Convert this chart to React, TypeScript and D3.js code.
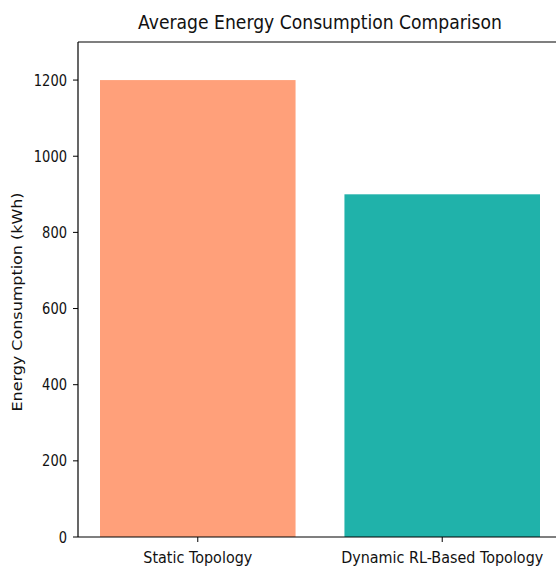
import React from "react";
import * as d3 from "d3";

const categories = ["Static Topology", "Dynamic RL-Based Topology"];
const values = [1200, 900];
const colors = ["#FFA07A", "#20B2AA"];
const yTicks = [0, 200, 400, 600, 800, 1000, 1200];
const title = "Average Energy Consumption Comparison";
const yLabel = "Energy Consumption (kWh)";

const W = 556;
const H = 566;
const left = 78;
const right = 562;
const top = 42;
const bottom = 537;

export default function App() {
  const x = d3.scaleLinear().domain([-0.49, 1.49]).range([left, right]);
  const y = d3.scaleLinear().domain([0, 1300]).range([bottom, top]);
  const bw = x(0.4) - x(-0.4);
  const font = "'DejaVu Sans', sans-serif";
  const tickLabelLens = [109, 202];
  return (
    <svg
      width={W}
      height={H}
      style={{ position: "absolute", left: 0, top: 0, background: "#fff" }}
    >
      <rect x={0} y={0} width={W} height={H} fill="#fff" />
      {values.map((v, i) => (
        <rect
          key={i}
          x={x(i) - bw / 2}
          y={y(v)}
          width={bw}
          height={y(0) - y(v)}
          fill={colors[i]}
        />
      ))}
      {/* spines */}
      <line x1={left} x2={left} y1={top} y2={bottom} stroke="#000" strokeWidth={1.2} />
      <line x1={left} x2={W + 10} y1={bottom} y2={bottom} stroke="#000" strokeWidth={1.2} />
      <line x1={left} x2={W + 10} y1={top} y2={top} stroke="#000" strokeWidth={1.2} />
      {/* y ticks */}
      {yTicks.map((t) => (
        <g key={t}>
          <line x1={left - 5} x2={left} y1={y(t)} y2={y(t)} stroke="#000" strokeWidth={1} />
          <text
            x={left - 11}
            y={y(t)}
            dy="0.36em"
            textAnchor="end"
            fontFamily={font}
            fontSize={15.5}
            fill="#111"
            textLength={String(t).length * 8.3}
            lengthAdjust="spacingAndGlyphs"
          >
            {t}
          </text>
        </g>
      ))}
      {/* x ticks */}
      {categories.map((c, i) => (
        <g key={c}>
          <line x1={x(i)} x2={x(i)} y1={bottom} y2={bottom + 5} stroke="#000" strokeWidth={1} />
          <text
            x={x(i)}
            y={bottom + 26}
            textAnchor="middle"
            fontFamily={font}
            fontSize={16.5}
            fill="#111"
            textLength={tickLabelLens[i]}
            lengthAdjust="spacingAndGlyphs"
          >
            {c}
          </text>
        </g>
      ))}
      <text
        x={320}
        y={28.5}
        textAnchor="middle"
        fontFamily={font}
        fontSize={20}
        fill="#111"
        textLength={364}
        lengthAdjust="spacingAndGlyphs"
      >
        {title}
      </text>
      <text
        transform={`translate(22, 302) rotate(-90)`}
        textAnchor="middle"
        fontFamily={font}
        fontSize={14}
        fill="#111"
        textLength={219}
        lengthAdjust="spacingAndGlyphs"
      >
        {yLabel}
      </text>
    </svg>
  );
}
